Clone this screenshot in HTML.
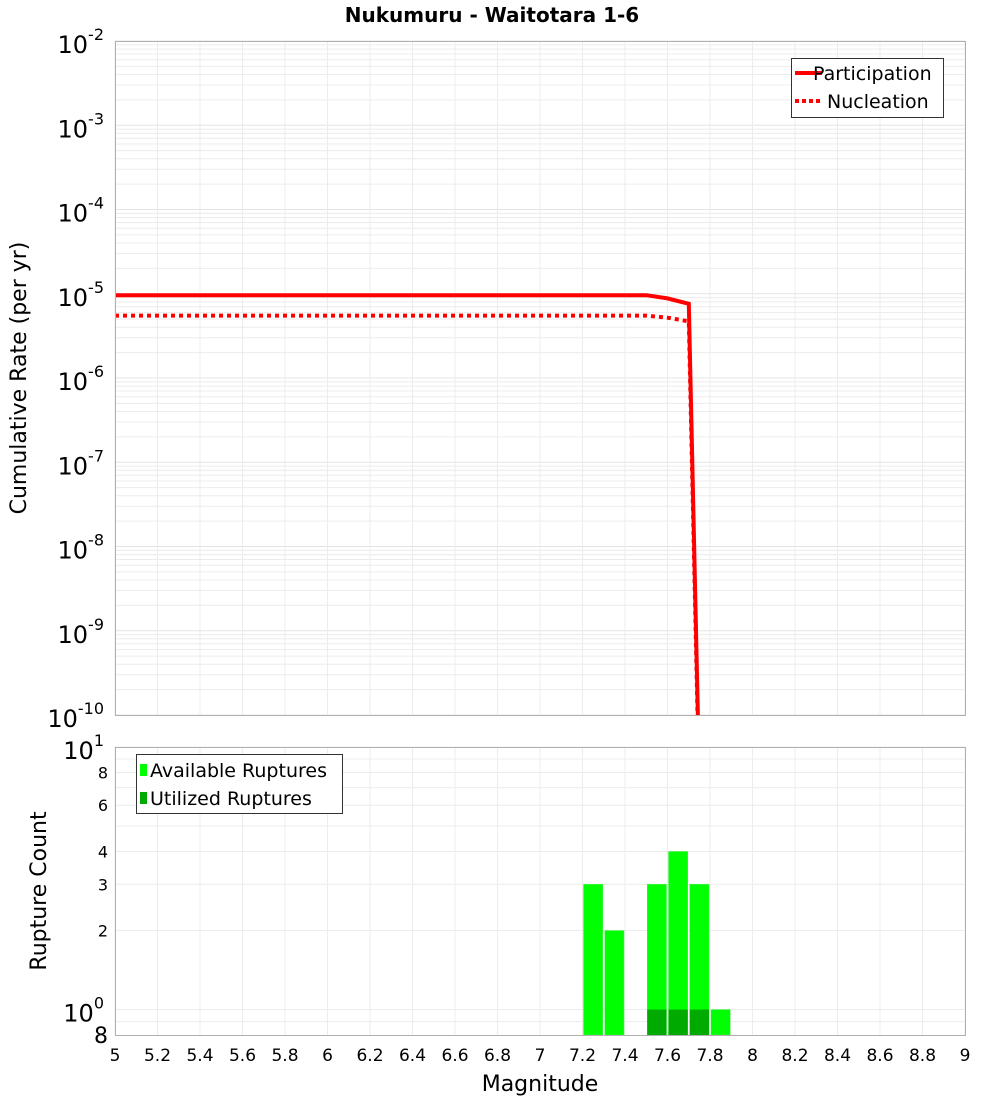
<!DOCTYPE html>
<html><head><meta charset="utf-8"><style>
body{margin:0;background:#fff;font-family:"Liberation Sans","DejaVu Sans",sans-serif}
svg text{font-family:"DejaVu Sans","Liberation Sans",sans-serif}
</style></head><body>
<svg id="c" width="1000" height="1100" xmlns="http://www.w3.org/2000/svg">
<defs>
<clipPath id="clipTop"><rect x="115" y="41" width="850" height="674"/></clipPath>
</defs>
<text x="492" y="22" text-anchor="middle" font-size="20" font-weight="bold">Nukumuru - Waitotara 1-6</text>
<g id="topPlot"></g>
<g id="botPlot"></g>
</svg>
<script>
const mags=[5,5.5,6,6.5,7,7.5,7.6,7.7,7.8];
const participation=[9.6e-6,9.6e-6,9.6e-6,9.6e-6,9.6e-6,9.6e-6,8.8e-6,7.6e-6,3e-17];
const nucleation=[5.5e-6,5.5e-6,5.5e-6,5.5e-6,5.5e-6,5.5e-6,5.2e-6,4.7e-6,2e-17];
const barMags=[7.25,7.35,7.55,7.65,7.75,7.85];
const availableCounts=[3,2,3,4,3,1];
const utilizedCounts=[0,0,1,1,1,0];
const xTicks=[5,5.2,5.4,5.6,5.8,6,6.2,6.4,6.6,6.8,7,7.2,7.4,7.6,7.8,8,8.2,8.4,8.6,8.8,9];
const topExps=[-2,-3,-4,-5,-6,-7,-8,-9,-10];
const botTicks=[8,6,4,3,2];

const NS="http://www.w3.org/2000/svg";
const X0=115,X1=965;
const xs=m=>X0+(m-5)/4*(X1-X0);
const TY0=41,TY1=715;
const yt=v=>TY0+(-2-Math.log10(v))/8*(TY1-TY0);
const BY0=747,BY1=1035;
const lmin=Math.log10(0.8),lmax=1;
const yb=v=>BY0+(lmax-Math.log10(v))/(lmax-lmin)*(BY1-BY0);
function mk(tag,attrs,parent,txt){const e=document.createElementNS(NS,tag);for(const k in attrs)e.setAttribute(k,attrs[k]);if(txt!==undefined)e.textContent=txt;parent.appendChild(e);return e;}
const gTop=document.getElementById('topPlot'),gBot=document.getElementById('botPlot');

for(let e=-10;e<-2;e++){for(let k=2;k<=9;k++){const y=yt(k*Math.pow(10,e));const l=mk('line',{x1:X0,x2:X1,y1:y,y2:y,stroke:'#ececec','stroke-width':1},gTop);

}}
topExps.forEach(e=>{const y=yt(Math.pow(10,e));const l=mk('line',{x1:X0,x2:X1,y1:y,y2:y,stroke:'#e4e4e4'},gTop);


const t=mk('text',{x:104,y:y+12,'text-anchor':'end','font-size':24},gTop);


mk('tspan',{},t,'10');mk('tspan',{dy:-13,'font-size':16},t,String(e));});
xTicks.forEach(m=>{const x=xs(m);const l=mk('line',{x1:x,x2:x,y1:TY0,y2:TY1,stroke:'#ececec'},gTop);


const l2=mk('line',{x1:x,x2:x,y1:BY0,y2:BY1,stroke:'#ececec'},gBot);


const t=mk('text',{x:x,y:1061,'text-anchor':'middle','font-size':17},gBot,String(m));

});
function path(vals){return vals.map((v,i)=>(i?'L':'M')+xs(mags[i]).toFixed(1)+','+yt(v).toFixed(1)).join(' ');}
const g=mk('g',{'clip-path':'url(#clipTop)'},gTop);
let p=mk('path',{d:path(participation),fill:'none',stroke:'#ff0000','stroke-width':4},g);


p=mk('path',{d:path(nucleation),fill:'none',stroke:'#ff0000','stroke-width':4,'stroke-dasharray':'4,4'},g);


let r=mk('rect',{x:X0+.5,y:TY0+.5,width:X1-X0,height:TY1-TY0,fill:'none',stroke:'#b0b0b0'},gTop);


let yl=mk('text',{transform:'translate(26,378) rotate(-90)','text-anchor':'middle','font-size':22},gTop,'Cumulative Rate (per yr)');


const lg=mk('g',{},gTop);


mk('rect',{x:791.5,y:58.5,width:152,height:59,fill:'#fff',stroke:'#333'},lg);
mk('line',{x1:795,x2:822,y1:73,y2:73,stroke:'#f00','stroke-width':4},lg);
mk('line',{x1:795,x2:822,y1:101,y2:101,stroke:'#f00','stroke-width':4,'stroke-dasharray':'4,3'},lg);
let t=mk('text',{x:813,y:80,'font-size':19},lg,'Participation');


t=mk('text',{x:827,y:108,'font-size':19},lg,'Nucleation');



[0.9,1,2,3,4,5,6,7,8,9,10].forEach(v=>{const y=yb(v);const l=mk('line',{x1:X0,x2:X1,y1:y,y2:y,stroke:'#ececec'},gBot);

});
botTicks.forEach(v=>{const tt=mk('text',{x:108,y:yb(v)+6,'text-anchor':'end','font-size':16},gBot,String(v));

});
[[10,'1'],[1,'0']].forEach(([v,e])=>{const tt=mk('text',{x:104,y:yb(v)+12,'text-anchor':'end','font-size':24},gBot);


mk('tspan',{},tt,'10');mk('tspan',{dy:-13,'font-size':16},tt,e);});
t=mk('text',{x:108,y:1043,'text-anchor':'end','font-size':22},gBot,'8');


const bw=(X1-X0)/40;
barMags.forEach((m,i)=>{const x=xs(m)-bw/2+1;const b=mk('rect',{x:x,y:yb(availableCounts[i]),width:bw-2,height:BY1-yb(availableCounts[i]),fill:'#00ff00',stroke:'#55ee55','stroke-width':0.5},gBot);


if(utilizedCounts[i]>0){const u=mk('rect',{x:x,y:yb(utilizedCounts[i]),width:bw-2,height:BY1-yb(utilizedCounts[i]),fill:'#00aa00'},gBot);

}});
r=mk('rect',{x:X0+.5,y:BY0+.5,width:X1-X0,height:BY1-BY0,fill:'none',stroke:'#b0b0b0'},gBot);


yl=mk('text',{transform:'translate(46,891) rotate(-90)','text-anchor':'middle','font-size':22},gBot,'Rupture Count');


t=mk('text',{x:540,y:1091,'text-anchor':'middle','font-size':22},gBot,'Magnitude');


const lb=mk('g',{},gBot);


mk('rect',{x:136.5,y:754.5,width:206,height:59,fill:'#fff',stroke:'#333'},lb);
mk('rect',{x:140,y:764,width:7,height:12,fill:'#00ff00'},lb);
mk('rect',{x:140,y:792,width:7,height:12,fill:'#00aa00'},lb);
t=mk('text',{x:150,y:777,'font-size':19},lb,'Available Ruptures');


t=mk('text',{x:150,y:805,'font-size':19},lb,'Utilized Ruptures');


</script>
</body></html>
